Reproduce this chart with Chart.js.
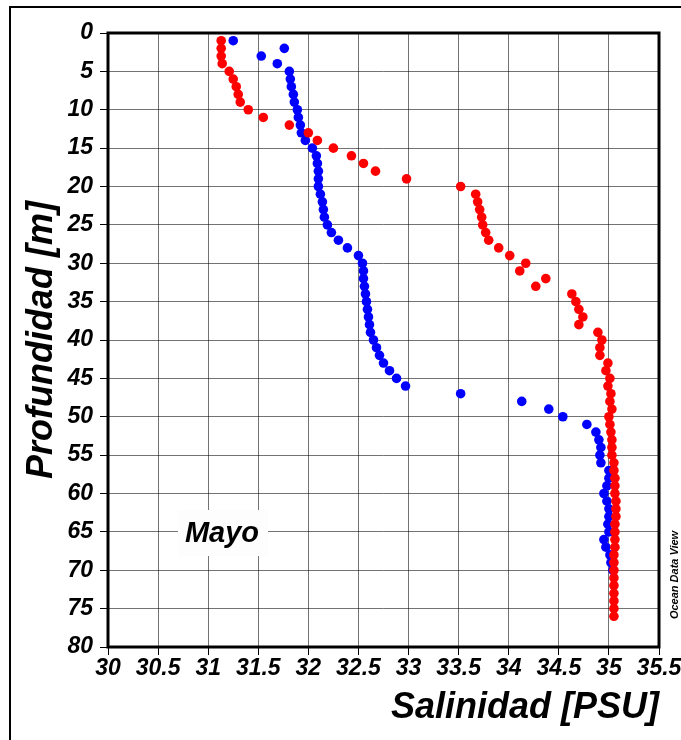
<!DOCTYPE html>
<html lang="es">
<head>
<meta charset="UTF-8">
<title>Salinidad - Mayo</title>
<style>
  html, body { margin: 0; padding: 0; background: #fff; }
  #wrap { position: relative; width: 681px; height: 740px; }
  /* marco exterior (solo izquierda y arriba) */
  #frame { position: absolute; left: 9px; top: 6px; right: -2px; bottom: -2px;
           border-left: 2px solid #000; border-top: 2px solid #000; pointer-events: none; }
</style>
</head>
<body>
<div id="wrap">
  <canvas id="salChart" width="681" height="740"></canvas>
  <div id="frame"></div>
</div>
<script src="https://cdnjs.cloudflare.com/ajax/libs/Chart.js/4.4.0/chart.umd.min.js"></script>
<script>
// ---- datos ----
const depthRed = [1,2,3,4,5,6,7,8,9,10,11,12,13,14,15,16,17,18,19,20,21,22,23,24,25,26,27,28,29,30,
  31,32,33,34,35,36,37,38,39,40,41,42,43,44,45,46,47,48,49,50,51,52,53,54,55,56,57,58,59,60,
  61,62,63,64,65,66,67,68,69,70,71,72,73,74,75,76];
const salRed = [31.13,31.13,31.13,31.14,31.21,31.25,31.28,31.30,31.32,31.40,
  31.55,31.81,32.00,32.09,32.25,32.43,32.55,32.67,32.98,33.52,
  33.67,33.69,33.71,33.73,33.74,33.77,33.80,33.90,34.01,34.17,
  34.11,34.37,34.27,34.63,34.67,34.70,34.74,34.70,34.89,34.93,
  34.91,34.91,34.99,34.97,35.01,34.99,35.02,35.01,35.03,35.00,
  35.01,35.02,35.03,35.03,35.03,35.05,35.05,35.06,35.06,35.06,
  35.07,35.07,35.07,35.06,35.06,35.06,35.06,35.05,35.05,35.05,
  35.05,35.05,35.05,35.05,35.05,35.05];

const depthBlue = [1,2,3,4,5,6,7,8,9,10,11,12,13,14,15,16,17,18,19,20,21,22,23,24,25,26,27,28,29,30,
  31,32,33,34,35,36,37,38,39,40,41,42,43,44,45,46,47,48,49,50,51,52,53,54,55,56,57,58,59,60,
  61,62,63,64,65,66,67,68,69,70];
const salBlue = [31.25,31.76,31.53,31.69,31.81,31.82,31.83,31.85,31.86,31.89,
  31.90,31.92,31.93,31.97,32.04,32.08,32.09,32.10,32.10,32.10,
  32.12,32.14,32.15,32.16,32.19,32.23,32.30,32.39,32.50,32.54,
  32.55,32.55,32.56,32.57,32.58,32.59,32.60,32.61,32.62,32.65,
  32.68,32.71,32.75,32.81,32.88,32.97,33.52,34.13,34.40,34.54,
  34.78,34.87,34.90,34.92,34.91,34.92,35.00,35.00,34.98,34.95,
  34.98,35.00,35.00,34.99,35.00,34.95,34.97,35.01,35.02,35.04];

const xTickLabels = ['30','30.5','31','31.5','32','32.5','33','33.5','34','34.5','35','35.5'];
const yTickLabels = ['0','5','10','15','20','25','30','35','40','45','50','55','60','65','70','75','80'];

const FONT = "'Liberation Sans', Arial, sans-serif";

function toPoints(xs, ys) {
  return xs.map((x, i) => ({ x: x, y: ys[i] }));
}

// marco del gráfico, etiqueta "Mayo" y "Ocean Data View"
const extras = {
  id: 'extras',
  beforeDatasetsDraw(chart) {
    const ctx = chart.ctx;
    ctx.save();
    ctx.fillStyle = '#fdfdfd';
    ctx.fillRect(178, 510, 90, 46);
    ctx.fillStyle = '#000';
    ctx.font = 'italic bold 29px ' + FONT;
    ctx.textAlign = 'center';
    ctx.textBaseline = 'middle';
    ctx.fillText('Mayo', 222, 534);
    ctx.restore();
  },
  afterDraw(chart) {
    const ctx = chart.ctx;
    const a = chart.chartArea;
    ctx.save();
    ctx.strokeStyle = '#000';
    ctx.lineWidth = 3;
    ctx.strokeRect(a.left, a.top, a.right - a.left, a.bottom - a.top);
    ctx.translate(675, 575);
    ctx.rotate(-Math.PI / 2);
    ctx.fillStyle = '#000';
    ctx.font = 'italic bold 11px ' + FONT;
    ctx.textAlign = 'center';
    ctx.textBaseline = 'middle';
    ctx.fillText('Ocean Data View', 0, 0);
    ctx.restore();
  }
};

new Chart(document.getElementById('salChart'), {
  type: 'scatter',
  data: {
    datasets: [
      { label: 'rojo', data: toPoints(salRed, depthRed), backgroundColor: '#ff0000',
        borderWidth: 0, pointRadius: 4.8, pointHoverRadius: 4.8 },
      { label: 'azul', data: toPoints(salBlue, depthBlue), backgroundColor: '#0000ff',
        borderWidth: 0, pointRadius: 4.8, pointHoverRadius: 4.8 }
    ]
  },
  options: {
    responsive: false,
    animation: false,
    devicePixelRatio: 1,
    layout: { padding: { top: 33, right: 22, bottom: 0, left: 0 } },
    plugins: { legend: { display: false }, tooltip: { enabled: false } },
    scales: {
      x: {
        type: 'linear', min: 30, max: 35.5,
        afterFit(s) { s.height = 93; s.paddingRight = 0; },
        ticks: {
          stepSize: 0.5, padding: 0, color: '#000', autoSkip: false,
          maxRotation: 0, minRotation: 0,
          font: { family: FONT, size: 23, style: 'italic', weight: 'bold' },
          callback: (v) => xTickLabels[Math.round((v - 30) / 0.5)]
        },
        grid: { color: 'rgba(0,0,0,0.55)', lineWidth: 1, tickLength: 8, tickColor: '#000' },
        border: { display: false },
        title: {
          display: true, text: 'Salinidad [PSU]', align: 'end', color: '#000',
          font: { family: FONT, size: 36, style: 'italic', weight: 'bold' },
          padding: { top: 0, bottom: 10 }
        }
      },
      y: {
        type: 'linear', min: 0, max: 80, reverse: true,
        afterFit(s) { s.width = 108; },
        ticks: {
          stepSize: 5, padding: 7, color: '#000', autoSkip: false,
          font: { family: FONT, size: 23, style: 'italic', weight: 'bold' },
          callback: (v) => yTickLabels[Math.round(v / 5)]
        },
        grid: { color: 'rgba(0,0,0,0.55)', lineWidth: 1, tickLength: 8, tickColor: '#000' },
        border: { display: false },
        title: {
          display: true, text: 'Profundidad [m]', color: '#000',
          font: { family: FONT, size: 36, style: 'italic', weight: 'bold' },
          padding: { top: 20, bottom: 0 }
        }
      }
    }
  },
  plugins: [extras]
});
</script>
</body>
</html>
